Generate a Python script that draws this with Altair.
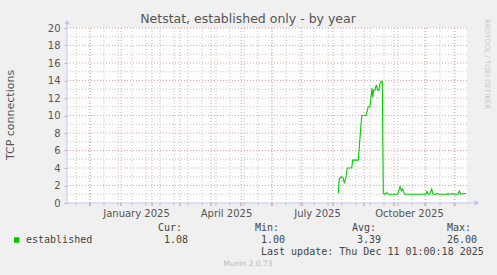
import altair as alt
import pandas as pd

# ---- data (days since 1 Jan 2025, TCP connections) ----
days = [217.3, 218.3, 220.7, 222.3, 223.3, 225, 226.3, 230.7, 231.7, 237.3,
        240.7, 245, 247.3, 249, 250, 251, 251.7, 252.7, 254, 255.3,
        256.7, 258, 259, 260, 261.3, 262.3, 264, 265.7, 267.3, 276,
        277, 278, 279, 280.5, 281.7, 283, 284, 305, 306, 307.5,
        309, 310.7, 312, 315, 316.3, 317.5, 326, 327, 328, 330,
        331.3, 332.5, 337, 338.3, 339.5, 345]
conns = [1.1, 2.8, 3.0, 2.8, 2.25, 3.0, 4.0, 4.0, 4.9, 4.9,
         10.0, 10.0, 11.0, 11.0, 12.1, 13.1, 12.1, 12.9, 12.9, 13.5,
         12.9, 12.9, 13.7, 13.9, 13.9, 1.1, 1.0, 1.2, 1.0, 1.0,
         1.1, 1.5, 1.86, 1.4, 1.6, 1.15, 1.0, 1.0, 1.3, 1.0,
         1.1, 1.6, 1.0, 1.0, 1.1, 1.0, 1.0, 1.1, 1.0, 1.0,
         1.1, 1.0, 1.0, 1.37, 1.05, 1.08]

month_start_days = [-31, 0, 31, 59, 90, 120, 151, 181, 212, 243, 273, 304, 334]
minor_days = list(range(-45, 347, 14))
label_days = [15, 105, 196, 288]
label_names = ["January 2025", "April 2025", "July 2025", "October 2025"]
y_major = [2, 4, 6, 8, 10, 12, 14, 16, 18, 20]
y_minor = [1, 3, 5, 7, 9, 11, 13, 15, 17, 19]
y_ticks = [0, 2, 4, 6, 8, 10, 12, 14, 16, 18, 20]

stat_heads = ["Cur:", "Min:", "Avg:", "Max:"]
stat_vals = ["1.08", "1.00", "3.39", "26.00"]
series_name = "established"
title_text = "Netstat, established only - by year"
y_title = "TCP connections"
last_update = "Last update: Thu Dec 11 01:00:18 2025"
footer = "Munin 2.0.73"
watermark = "RRDTOOL / TOBI OETIKER"

W, H = 400, 175
xscale = alt.Scale(domain=[-54, 346], nice=False)
yscale = alt.Scale(domain=[0, 20], nice=False)

MAJOR = "#eaa0a0"
MINOR = "#c4c4c4"
AXISC = "#c4c4f4"
TXT = "#555555"
GREEN = "#00cc00"

label_expr = " : ".join(
    f"datum.value == {d} ? '{n}'" for d, n in zip(label_days, label_names)
) + " : ''"

X_AXIS = alt.Axis(values=label_days, labelExpr=label_expr, ticks=False,
                  domain=False, grid=False, title=None,
                  labelFont="DejaVu Sans", labelFontSize=10,
                  labelColor=TXT, labelPadding=5)
Y_AXIS = alt.Axis(values=y_ticks, ticks=True, tickSize=3, tickColor="#b8b8b8",
                  domain=False, grid=False, title=None,
                  labelFont="DejaVu Sans", labelFontSize=10,
                  labelColor=TXT, labelPadding=4)

df = pd.DataFrame({"day": days, "conn": conns})

line = alt.Chart(df).mark_line(color=GREEN, strokeWidth=1.1).encode(
    x=alt.X("day:Q", scale=xscale, axis=X_AXIS),
    y=alt.Y("conn:Q", scale=yscale, axis=Y_AXIS),
)

def vrules(vals, color):
    return alt.Chart(pd.DataFrame({"day": vals})).mark_rule(
        color=color, strokeDash=[1, 2], strokeWidth=1).encode(
        x=alt.X("day:Q", scale=xscale, axis=X_AXIS),
        y=alt.value(0), y2=alt.value(H))

def hrules(vals, color):
    return alt.Chart(pd.DataFrame({"conn": vals})).mark_rule(
        color=color, strokeDash=[1, 2], strokeWidth=1).encode(
        y=alt.Y("conn:Q", scale=yscale, axis=Y_AXIS),
        x=alt.value(0), x2=alt.value(W))

def xticks(vals, color):
    return alt.Chart(pd.DataFrame({"day": vals})).mark_rule(
        color=color, strokeWidth=1).encode(
        x=alt.X("day:Q", scale=xscale, axis=X_AXIS),
        y=alt.value(H), y2=alt.value(H + 3))

def txt(s, x, y, size, font="DejaVu Sans Mono", color="#444444",
        align="left", angle=0):
    return alt.Chart(pd.DataFrame({"t": [s]})).mark_text(
        font=font, fontSize=size, color=color, align=align,
        baseline="middle", angle=angle).encode(
        text="t:N", x=alt.value(x), y=alt.value(y))

minor_v = [d for d in minor_days if -54 < d < 346]

axis_y = alt.Chart(pd.DataFrame({"a": [0]})).mark_rule(color=AXISC).encode(
    x=alt.value(0), y=alt.value(-6), y2=alt.value(H))
axis_x = alt.Chart(pd.DataFrame({"a": [0]})).mark_rule(color=AXISC).encode(
    x=alt.value(0), x2=alt.value(409), y=alt.value(H))
arrow_up = alt.Chart(pd.DataFrame({"a": [0]})).mark_point(
    shape="triangle-up", filled=True, color=AXISC, size=30, opacity=1).encode(
    x=alt.value(0), y=alt.value(-6))
arrow_right = alt.Chart(pd.DataFrame({"a": [0]})).mark_point(
    shape="triangle-right", filled=True, color=AXISC, size=30, opacity=1).encode(
    x=alt.value(410), y=alt.value(H))

legend_sq = alt.Chart(pd.DataFrame({"a": [0]})).mark_square(
    color=GREEN, size=30, opacity=1).encode(x=alt.value(-50.3), y=alt.value(212))

head_x = [91, 188, 285, 380]
val_x = [97, 194, 290, 380]

texts = [
    txt(title_text, 181, -9, 12.5, font="DejaVu Sans", color=TXT, align="center"),
    txt(y_title, -56, 87, 11, font="DejaVu Sans", color=TXT, align="center", angle=270),
    txt(watermark, 420, 36, 7, font="DejaVu Sans", color="#c8c8c8", align="center", angle=90),
    txt(series_name, -41, 212, 10),
    txt(last_update, 194, 224, 10),
    txt(footer, 181, 236, 7.5, font="DejaVu Sans", color="#bbbbbb", align="center"),
]
for s, x in zip(stat_heads, head_x):
    texts.append(txt(s, x, 200, 10))
for s, x in zip(stat_vals, val_x):
    texts.append(txt(s, x, 212, 10))

chart = alt.layer(
    vrules(minor_v, MINOR),
    hrules(y_minor, MINOR),
    vrules(month_start_days, MAJOR),
    hrules(y_major, MAJOR),
    xticks(minor_v, MINOR),
    xticks(month_start_days, "#e08080"),
    axis_y, axis_x, arrow_up, arrow_right,
    line,
    legend_sq,
    *texts,
).properties(
    width=W, height=H,
    autosize=alt.AutoSizeParams(type="none"),
    padding={"left": 67, "top": 28, "right": 30, "bottom": 72},
    background="#f0f0f0",
).configure_view(fill="white", stroke=None)

chart.save("out.html", embed_options={"renderer": "svg", "actions": False})
